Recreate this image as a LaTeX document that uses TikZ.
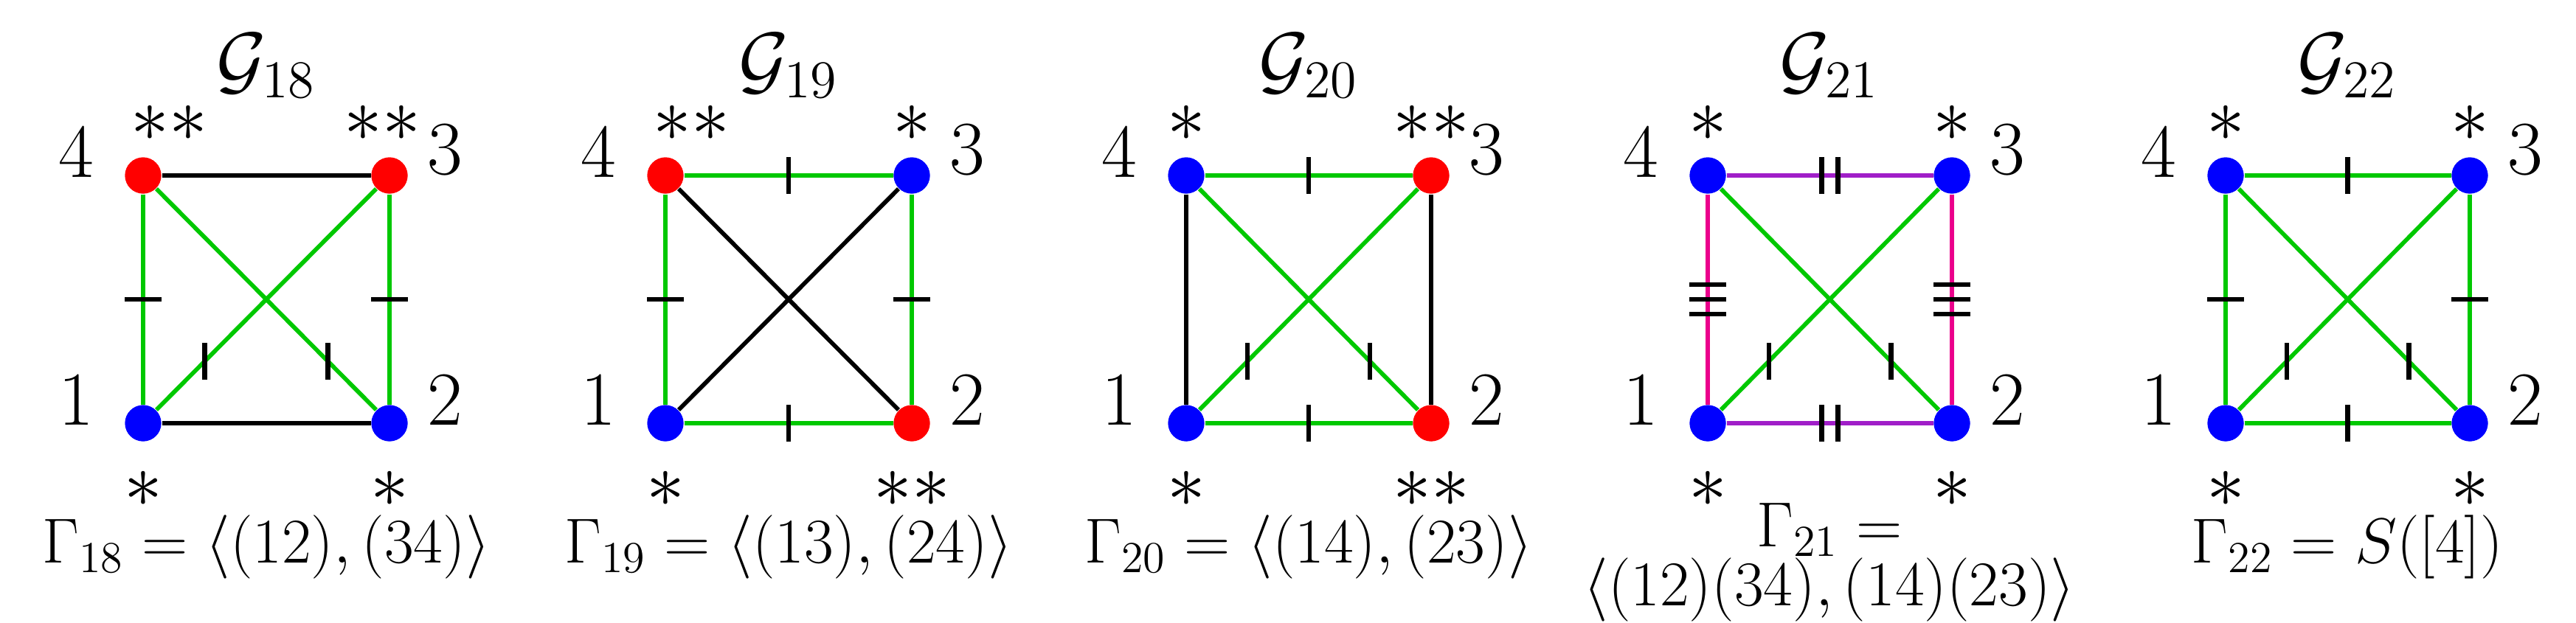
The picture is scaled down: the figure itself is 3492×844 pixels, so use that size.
\documentclass[tikz,border=0pt]{standalone}
\usetikzlibrary{calc}
\begin{document}
\begin{tikzpicture}[x=0.2pt,y=-0.2pt,
  vx/.style={circle,inner sep=0pt,minimum size=9.8pt},
  rv/.style={vx,fill={rgb,255:red,255;green,0;blue,0}},
  bv/.style={vx,fill={rgb,255:red,0;green,0;blue,255}},
  lab/.style={font=\fontsize{20.6}{24}\selectfont},
  glab/.style={font=\fontsize{18.5}{22}\selectfont},
  ge/.style={line width=1.15pt,draw={rgb,255:red,0;green,200;blue,0}},
  ke/.style={line width=1.15pt,draw=black},
  pe/.style={line width=1.15pt,draw={rgb,255:red,160;green,30;blue,200}},
  me/.style={line width=1.15pt,draw={rgb,255:red,235;green,0;blue,140}},
  tk/.style={line width=1.3pt,draw=black}]
\useasboundingbox (0,0) rectangle (3492,844);
\newcommand\vlab[1]{%
  \node[lab] (#1t) at ($(#11)+(-91,-31)$) {$1$};
  \node[lab] (#1u) at ($(#12)+(75,-31)$) {$2$};
  \node[lab] (#1v) at ($(#13)+(75,-35)$) {$3$};
  \node[lab] (#1w) at ($(#14)+(-91,-31)$) {$4$};}
\newcommand\htick[2]{\draw[tk] ($(#1)!0.5!(#2)$) +(0,-25) -- +(0,25);}
\newcommand\vtick[2]{\draw[tk] ($(#1)!0.5!(#2)$) +(-25,0) -- +(25,0);}
\newcommand\dtick[2]{\draw[tk] ($(#1)!0.25!(#2)$) +(0,-25) -- +(0,25);}
\newcommand\hdtick[2]{\draw[tk] ($(#1)!0.5!(#2)$) +(-11,-25) -- +(-11,25) +(11,-25) -- +(11,25);}
\newcommand\vttick[2]{\draw[tk] ($(#1)!0.5!(#2)$) +(-25,-20) -- +(25,-20) +(-25,0) -- +(25,0) +(-25,20) -- +(25,20);}
% ---------- G18
\node[rv] (a4) at (194,238) {};
\node[rv] (a3) at (528,238) {};
\node[bv] (a1) at (194,574) {};
\node[bv] (a2) at (528,574) {};
\draw[ke] (a4) -- (a3); \draw[ke] (a1) -- (a2);
\draw[ge] (a1) -- (a4); \draw[ge] (a2) -- (a3);
\draw[ge] (a1) -- (a3); \draw[ge] (a2) -- (a4);
\vtick{a1}{a4}\vtick{a2}{a3}\dtick{a1}{a3}\dtick{a2}{a4}
\vlab{a}
\node[lab] (as4) at ($(a4)+(35,-71)$) {$**$};
\node[lab] (as3) at ($(a3)+(-10,-71)$) {$**$};
\node[lab] (as1) at ($(a1)+(0,89)$) {$*$};
\node[lab] (as2) at ($(a2)+(0,89)$) {$*$};
\node[lab] (at) at (361,89) {$\mathcal{G}_{18}$};
\node[glab] (ag) at (361,742) {$\Gamma_{18}=\langle(12),(34)\rangle$};
% ---------- G19
\node[rv] (b4) at (902,238) {};
\node[bv] (b3) at (1236,238) {};
\node[bv] (b1) at (902,574) {};
\node[rv] (b2) at (1236,574) {};
\draw[ge] (b4) -- (b3); \draw[ge] (b1) -- (b2);
\draw[ge] (b1) -- (b4); \draw[ge] (b2) -- (b3);
\draw[ke] (b1) -- (b3); \draw[ke] (b2) -- (b4);
\htick{b4}{b3}\htick{b1}{b2}\vtick{b1}{b4}\vtick{b2}{b3}
\vlab{b}
\node[lab] (bs4) at ($(b4)+(35,-71)$) {$**$};
\node[lab] (bs3) at ($(b3)+(0,-71)$) {$*$};
\node[lab] (bs1) at ($(b1)+(0,89)$) {$*$};
\node[lab] (bs2) at ($(b2)+(0,89)$) {$**$};
\node[lab] (bt) at (1069,89) {$\mathcal{G}_{19}$};
\node[glab] (bg) at (1069,742) {$\Gamma_{19}=\langle(13),(24)\rangle$};
% ---------- G20
\node[bv] (c4) at (1608,238) {};
\node[rv] (c3) at (1940,238) {};
\node[bv] (c1) at (1608,574) {};
\node[rv] (c2) at (1940,574) {};
\draw[ge] (c4) -- (c3); \draw[ge] (c1) -- (c2);
\draw[ke] (c1) -- (c4); \draw[ke] (c2) -- (c3);
\draw[ge] (c1) -- (c3); \draw[ge] (c2) -- (c4);
\htick{c4}{c3}\htick{c1}{c2}\dtick{c1}{c3}\dtick{c2}{c4}
\vlab{c}
\node[lab] (cs4) at ($(c4)+(0,-71)$) {$*$};
\node[lab] (cs3) at ($(c3)+(0,-71)$) {$**$};
\node[lab] (cs1) at ($(c1)+(0,89)$) {$*$};
\node[lab] (cs2) at ($(c2)+(0,89)$) {$**$};
\node[lab] (ct) at (1774,89) {$\mathcal{G}_{20}$};
\node[glab] (cg) at (1774,742) {$\Gamma_{20}=\langle(14),(23)\rangle$};
% ---------- G21
\node[bv] (d4) at (2315,238) {};
\node[bv] (d3) at (2646,238) {};
\node[bv] (d1) at (2315,574) {};
\node[bv] (d2) at (2646,574) {};
\draw[pe] (d4) -- (d3); \draw[pe] (d1) -- (d2);
\draw[me] (d1) -- (d4); \draw[me] (d2) -- (d3);
\draw[ge] (d1) -- (d3); \draw[ge] (d2) -- (d4);
\hdtick{d4}{d3}\hdtick{d1}{d2}\vttick{d1}{d4}\vttick{d2}{d3}\dtick{d1}{d3}\dtick{d2}{d4}
\vlab{d}
\node[lab] (ds4) at ($(d4)+(0,-71)$) {$*$};
\node[lab] (ds3) at ($(d3)+(0,-71)$) {$*$};
\node[lab] (ds1) at ($(d1)+(0,89)$) {$*$};
\node[lab] (ds2) at ($(d2)+(0,89)$) {$*$};
\node[lab] (dt) at (2480,89) {$\mathcal{G}_{21}$};
\node[glab] (dg) at (2480,718) {$\Gamma_{21}=$};
\node[glab] (dh) at (2480,800) {$\langle(12)(34),(14)(23)\rangle$};
% ---------- G22
\node[bv] (e4) at (3017,238) {};
\node[bv] (e3) at (3348,238) {};
\node[bv] (e1) at (3017,574) {};
\node[bv] (e2) at (3348,574) {};
\draw[ge] (e4) -- (e3); \draw[ge] (e1) -- (e2);
\draw[ge] (e1) -- (e4); \draw[ge] (e2) -- (e3);
\draw[ge] (e1) -- (e3); \draw[ge] (e2) -- (e4);
\htick{e4}{e3}\htick{e1}{e2}\vtick{e1}{e4}\vtick{e2}{e3}\dtick{e1}{e3}\dtick{e2}{e4}
\vlab{e}
\node[lab] (es4) at ($(e4)+(0,-71)$) {$*$};
\node[lab] (es3) at ($(e3)+(0,-71)$) {$*$};
\node[lab] (es1) at ($(e1)+(0,89)$) {$*$};
\node[lab] (es2) at ($(e2)+(0,89)$) {$*$};
\node[lab] (et) at (3182,89) {$\mathcal{G}_{22}$};
\node[glab] (eg) at (3182,742) {$\Gamma_{22}=S([4])$};
% vertices on top
\node[rv] at (a4) {};\node[rv] at (a3) {};\node[bv] at (a1) {};\node[bv] at (a2) {};
\node[rv] at (b4) {};\node[bv] at (b3) {};\node[bv] at (b1) {};\node[rv] at (b2) {};
\node[bv] at (c4) {};\node[rv] at (c3) {};\node[bv] at (c1) {};\node[rv] at (c2) {};
\node[bv] at (d4) {};\node[bv] at (d3) {};\node[bv] at (d1) {};\node[bv] at (d2) {};
\node[bv] at (e4) {};\node[bv] at (e3) {};\node[bv] at (e1) {};\node[bv] at (e2) {};
\end{tikzpicture}
\end{document}
